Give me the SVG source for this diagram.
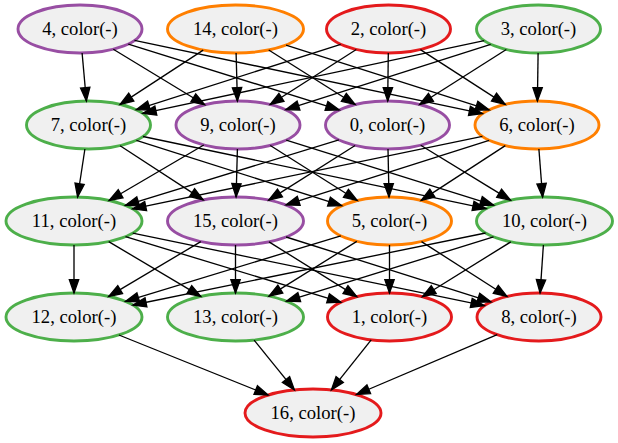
<svg xmlns="http://www.w3.org/2000/svg" width="618" height="443" viewBox="0 0 618 443">
  <style>
    .node ellipse { fill: #f0f0f0; stroke-width: 2.9; }
    .node text { font-family: 'Liberation Serif', 'DejaVu Serif', serif; font-size: 18.67px; text-anchor: middle; fill: #000; }
    .purple ellipse { stroke: #984ea3; }
    .orange ellipse { stroke: #ff7f00; }
    .red ellipse { stroke: #e41a1c; }
    .green ellipse { stroke: #4daf4a; }
    #edges line { stroke: #000; stroke-width: 1.33; marker-end: url(#arrow); }
  </style>
  <defs>
    <marker id="arrow" markerUnits="userSpaceOnUse" markerWidth="16" markerHeight="12" refX="13.33" refY="4.67" orient="auto" overflow="visible">
      <path d="M0,0 L13.33,4.67 L0,9.33 Z" fill="#000" stroke="#000" stroke-width="1.33"/>
    </marker>
  </defs>

  <!-- rank 1 -->
  <g id="node4" class="node purple"><ellipse cx="80" cy="29" rx="62" ry="24"/><text x="80" y="35" font-family="Liberation Serif, serif">4, color(-)</text></g>
  <g id="node14" class="node orange"><ellipse cx="235.5" cy="29" rx="68" ry="24"/><text x="235.5" y="35" font-family="Liberation Serif, serif">14, color(-)</text></g>
  <g id="node2" class="node red"><ellipse cx="388.5" cy="29" rx="62" ry="24"/><text x="388.5" y="35" font-family="Liberation Serif, serif">2, color(-)</text></g>
  <g id="node3" class="node green"><ellipse cx="538.5" cy="29" rx="62" ry="24"/><text x="538.5" y="35" font-family="Liberation Serif, serif">3, color(-)</text></g>

  <!-- rank 2 -->
  <g id="node7" class="node green"><ellipse cx="88.5" cy="125" rx="62" ry="24"/><text x="88.5" y="131" font-family="Liberation Serif, serif">7, color(-)</text></g>
  <g id="node9" class="node purple"><ellipse cx="238" cy="125" rx="62" ry="24"/><text x="238" y="131" font-family="Liberation Serif, serif">9, color(-)</text></g>
  <g id="node0" class="node purple"><ellipse cx="387.5" cy="125" rx="62" ry="24"/><text x="387.5" y="131" font-family="Liberation Serif, serif">0, color(-)</text></g>
  <g id="node6" class="node orange"><ellipse cx="537" cy="125" rx="62" ry="24"/><text x="537" y="131" font-family="Liberation Serif, serif">6, color(-)</text></g>

  <!-- rank 3 -->
  <g id="node11" class="node green"><ellipse cx="74" cy="221" rx="68" ry="24"/><text x="74" y="227" font-family="Liberation Serif, serif">11, color(-)</text></g>
  <g id="node15" class="node purple"><ellipse cx="235.5" cy="221" rx="68" ry="24"/><text x="235.5" y="227" font-family="Liberation Serif, serif">15, color(-)</text></g>
  <g id="node5" class="node orange"><ellipse cx="389.5" cy="221" rx="62" ry="24"/><text x="389.5" y="227" font-family="Liberation Serif, serif">5, color(-)</text></g>
  <g id="node10" class="node green"><ellipse cx="544.5" cy="221" rx="68" ry="24"/><text x="544.5" y="227" font-family="Liberation Serif, serif">10, color(-)</text></g>

  <!-- rank 4 -->
  <g id="node12" class="node green"><ellipse cx="74" cy="317" rx="68" ry="24"/><text x="74" y="323" font-family="Liberation Serif, serif">12, color(-)</text></g>
  <g id="node13" class="node green"><ellipse cx="235.5" cy="317" rx="68" ry="24"/><text x="235.5" y="323" font-family="Liberation Serif, serif">13, color(-)</text></g>
  <g id="node1" class="node red"><ellipse cx="389.5" cy="317" rx="62" ry="24"/><text x="389.5" y="323" font-family="Liberation Serif, serif">1, color(-)</text></g>
  <g id="node8" class="node red"><ellipse cx="539" cy="317" rx="62" ry="24"/><text x="539" y="323" font-family="Liberation Serif, serif">8, color(-)</text></g>

  <!-- rank 5 -->
  <g id="node16" class="node red"><ellipse cx="313" cy="413" rx="68" ry="24"/><text x="313" y="419" font-family="Liberation Serif, serif">16, color(-)</text></g>

  <g id="edges">
    <!-- rank 1 to rank 2 -->
    <line x1="82.1" y1="53" x2="86.4" y2="101"/>
    <line x1="113.3" y1="49.2" x2="204.7" y2="104.8"/>
    <line x1="128.3" y1="44.1" x2="339.2" y2="109.9"/>
    <line x1="134.5" y1="40.4" x2="482.5" y2="113.6"/>
    <line x1="203.2" y1="50.1" x2="120.1" y2="104.4"/>
    <line x1="236.1" y1="53" x2="237.4" y2="101"/>
    <line x1="268.7" y1="50" x2="355.1" y2="104.5"/>
    <line x1="286" y1="45.1" x2="489.1" y2="109.8"/>
    <line x1="340.7" y1="44.3" x2="136.3" y2="109.7"/>
    <line x1="356.3" y1="49.5" x2="270.2" y2="104.5"/>
    <line x1="388.3" y1="53" x2="387.7" y2="101"/>
    <line x1="420.4" y1="49.6" x2="505.2" y2="104.4"/>
    <line x1="484.2" y1="40.6" x2="142.8" y2="113.4"/>
    <line x1="490.7" y1="44.3" x2="285.8" y2="109.7"/>
    <line x1="506.3" y1="49.5" x2="419.7" y2="104.5"/>
    <line x1="538.1" y1="53" x2="537.4" y2="101"/>

    <!-- rank 2 to rank 3 -->
    <line x1="84.9" y1="149" x2="77.6" y2="197"/>
    <line x1="120.1" y1="145.7" x2="203.2" y2="199.9"/>
    <line x1="136.4" y1="140.3" x2="341.7" y2="205.7"/>
    <line x1="143" y1="136.5" x2="486.1" y2="208.7"/>
    <line x1="203.8" y1="145" x2="109.1" y2="200.5"/>
    <line x1="237.4" y1="149" x2="236.1" y2="197"/>
    <line x1="270.3" y1="145.5" x2="357.2" y2="200.5"/>
    <line x1="286.2" y1="140.1" x2="493.6" y2="205.1"/>
    <line x1="338.9" y1="139.9" x2="125.4" y2="205.3"/>
    <line x1="355.1" y1="145.5" x2="268.7" y2="200.1"/>
    <line x1="388" y1="149" x2="389" y2="197"/>
    <line x1="420.7" y1="145.3" x2="510.5" y2="200.2"/>
    <line x1="482.4" y1="136.3" x2="132.6" y2="208.8"/>
    <line x1="489.1" y1="140.3" x2="286" y2="204.9"/>
    <line x1="505.3" y1="145.6" x2="421.2" y2="200.4"/>
    <line x1="538.9" y1="149" x2="542.6" y2="197"/>

    <!-- rank 3 to rank 4 -->
    <line x1="74" y1="245" x2="74" y2="293"/>
    <line x1="108.7" y1="241.6" x2="200.8" y2="296.4"/>
    <line x1="125.5" y1="236.7" x2="340.8" y2="302.2"/>
    <line x1="132.7" y1="233.1" x2="484.3" y2="305.7"/>
    <line x1="200.8" y1="241.6" x2="108.7" y2="296.4"/>
    <line x1="235.5" y1="245" x2="235.5" y2="293"/>
    <line x1="269" y1="241.9" x2="356.8" y2="296.6"/>
    <line x1="286.1" y1="237" x2="491" y2="301.8"/>
    <line x1="340.8" y1="235.8" x2="125.5" y2="301.3"/>
    <line x1="356.8" y1="241.4" x2="269" y2="296.1"/>
    <line x1="389.5" y1="245" x2="389.5" y2="293"/>
    <line x1="421.5" y1="241.6" x2="507" y2="296.5"/>
    <line x1="485.6" y1="233" x2="132.9" y2="305"/>
    <line x1="493.5" y1="236.9" x2="286.5" y2="301.1"/>
    <line x1="510.8" y1="241.9" x2="422.4" y2="296.7"/>
    <line x1="543.4" y1="245" x2="540.1" y2="293"/>

    <!-- rank 4 to rank 5 -->
    <line x1="118.9" y1="335" x2="268.1" y2="395"/>
    <line x1="254.1" y1="340.1" x2="294.4" y2="389.9"/>
    <line x1="371.2" y1="339.9" x2="331.4" y2="389.9"/>
    <line x1="497.2" y1="334.7" x2="356.5" y2="394.5"/>
  </g>
</svg>
